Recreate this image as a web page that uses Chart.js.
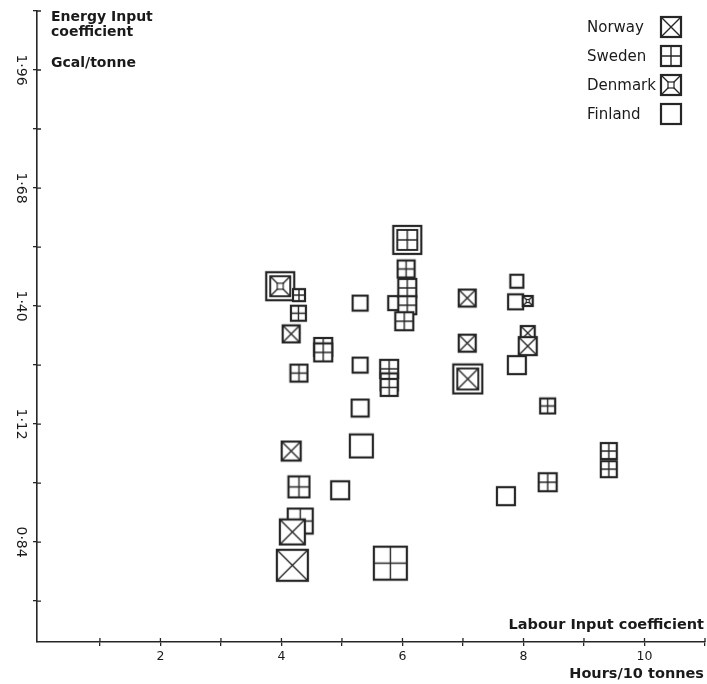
<!DOCTYPE html>
<html><head><meta charset="utf-8">
<style>html,body{margin:0;padding:0;background:#fff;} #wrap{width:707px;height:684px;}</style>
<script src="https://cdn.jsdelivr.net/npm/chart.js@4.4.0/dist/chart.umd.min.js"></script>
</head><body><div id="wrap"><canvas id="c" width="707" height="684"></canvas></div>
<script>
// ---- data ----
const countries = ['Norway', 'Sweden', 'Denmark', 'Finland'];

const norwayX = [4.16, 4.16, 4.18, 4.18, 7.07, 7.07, 7.08, 8.07, 8.07];
const norwayY = [1.334, 1.056, 0.864, 0.785, 1.419, 1.312, 1.227, 1.336, 1.305];
const norwaySize = [17, 19, 25, 31, 17, 17, 29, 14, 18];
const norwayRing = [0, 0, 0, 0, 0, 0, 1, 0, 0];

const swedenX = [4.29, 4.28, 4.69, 4.69, 4.29, 4.29, 4.31, 5.80, 6.08, 6.06, 6.08, 6.08, 6.03, 5.78, 5.78, 5.78, 8.40, 8.40, 9.41, 9.41];
const swedenY = [1.426, 1.383, 1.303, 1.290, 1.241, 0.971, 0.890, 0.790, 1.557, 1.488, 1.443, 1.402, 1.364, 1.251, 1.220, 1.207, 1.163, 0.982, 1.056, 1.013];
const swedenSize = [12, 15, 18, 18, 17, 21, 25, 33, 28, 17, 18, 18, 18, 18, 17, 17, 15, 18, 16, 16];
const swedenRing = [0, 0, 0, 0, 0, 0, 0, 0, 1, 0, 0, 0, 0, 0, 0, 0, 0, 0, 0, 0];

const denmarkX = [3.98, 8.07];
const denmarkY = [1.447, 1.412];
const denmarkSize = [28, 10];
const denmarkRing = [1, 0];

const finlandX = [5.30, 5.30, 5.30, 5.32, 4.97, 5.88, 7.89, 7.87, 7.89, 7.71];
const finlandY = [1.407, 1.260, 1.158, 1.068, 0.963, 1.407, 1.459, 1.410, 1.260, 0.949];
const finlandSize = [15, 15, 17, 23, 18, 14, 13, 15, 18, 18];
const finlandRing = [0, 0, 0, 0, 0, 0, 0, 0, 0, 0];

const xTickValues = [1, 2, 3, 4, 5, 6, 7, 8, 9, 10, 11];
const xTickLabels = ['', '2', '', '4', '', '6', '', '8', '', '10', ''];
const yTickValues = [0.70, 0.84, 0.98, 1.12, 1.26, 1.40, 1.54, 1.68, 1.82, 1.96, 2.10];
const yTickLabels = ['', '0·84', '', '1·12', '', '1·40', '', '1·68', '', '1·96', ''];

const yTitle = ['Energy Input', 'coefficient'];
const yUnit = 'Gcal/tonne';
const xTitle = 'Labour Input coefficient';
const xUnit = 'Hours/10 tonnes';

// ---- styling ----
const INK = '#262626';
const FONT = '"DejaVu Sans", "Liberation Sans", sans-serif';
const cache = {};
function marker(kind, size, ring) {
  const key = kind + '|' + size + '|' + ring;
  if (cache[key]) return cache[key];
  const pad = 2, W = size + pad * 2;
  const cv = document.createElement('canvas');
  cv.width = W; cv.height = W;
  const g = cv.getContext('2d');
  g.strokeStyle = INK; g.fillStyle = '#fff';
  let x0 = pad, s = size;
  g.fillRect(x0, x0, s, s);
  g.lineWidth = 2.2; g.strokeRect(x0, x0, s, s);
  if (ring) { x0 += 4; s -= 8; g.lineWidth = 1.9; g.strokeRect(x0, x0, s, s); }
  g.lineWidth = 1.4;
  const x1 = x0 + s, c = x0 + s / 2;
  if (kind === 'Norway' || kind === 'Denmark') {
    g.beginPath(); g.moveTo(x0, x0); g.lineTo(x1, x1); g.moveTo(x1, x0); g.lineTo(x0, x1); g.stroke();
  }
  if (kind === 'Sweden') {
    g.beginPath(); g.moveTo(c, x0); g.lineTo(c, x1); g.moveTo(x0, c); g.lineTo(x1, c); g.stroke();
  }
  if (kind === 'Denmark') {
    const q = Math.max(3, Math.round(s * 0.28));
    g.fillRect(c - q / 2, c - q / 2, q, q);
    g.lineWidth = 1.2; g.strokeRect(c - q / 2, c - q / 2, q, q);
  }
  cache[key] = cv;
  return cv;
}

function makeSet(name, xs, ys, sizes, rings) {
  return {
    label: name,
    data: xs.map((x, i) => ({ x: x, y: ys[i] })),
    pointRadius: 6,
    pointStyle: (ctx) => ctx.dataIndex === undefined ? 'rect' : marker(name, sizes[ctx.dataIndex], rings[ctx.dataIndex]),
    showLine: false
  };
}

const datasets = [
  makeSet('Norway', norwayX, norwayY, norwaySize, norwayRing),
  makeSet('Sweden', swedenX, swedenY, swedenSize, swedenRing),
  makeSet('Denmark', denmarkX, denmarkY, denmarkSize, denmarkRing),
  makeSet('Finland', finlandX, finlandY, finlandSize, finlandRing)
];

const decor = {
  id: 'decor',
  afterDraw(chart) {
    const ctx = chart.ctx, xs = chart.scales.x, ys = chart.scales.y;
    const a = chart.chartArea;
    ctx.save();
    ctx.strokeStyle = INK; ctx.lineWidth = 1.3;
    ctx.beginPath();
    xTickValues.forEach(v => { const p = xs.getPixelForValue(v); ctx.moveTo(p, a.bottom); ctx.lineTo(p, a.bottom - 4); });
    yTickValues.forEach(v => { const p = ys.getPixelForValue(v); ctx.moveTo(a.left, p); ctx.lineTo(a.left + 4, p); });
    ctx.stroke();
    ctx.fillStyle = '#1a1a1a';
    ctx.font = '14px ' + FONT;
    ctx.textAlign = 'center'; ctx.textBaseline = 'middle';
    yTickValues.forEach((v, i) => {
      if (!yTickLabels[i]) return;
      const p = ys.getPixelForValue(v);
      ctx.save(); ctx.translate(21, p); ctx.rotate(Math.PI / 2); ctx.fillText(yTickLabels[i], 0, 0); ctx.restore();
    });
    ctx.font = 'bold 14px ' + FONT;
    ctx.textAlign = 'left';
    ctx.fillText(yTitle[0], 51, 17);
    ctx.fillText(yTitle[1], 51, 32);
    ctx.fillText(yUnit, 51, 63);
    ctx.font = 'bold 14.5px ' + FONT;
    ctx.textAlign = 'right';
    ctx.fillText(xTitle, 704, 625);
    ctx.fillText(xUnit, 704, 674);
    const ly = [27, 56, 85, 114];
    ctx.font = '15px ' + FONT;
    ctx.textAlign = 'left';
    countries.forEach((name, i) => {
      ctx.fillText(name, 587, ly[i] + 1);
      const m = marker(name, 20, 0);
      ctx.drawImage(m, Math.round(671 - m.width / 2), Math.round(ly[i] - m.height / 2));
    });
    ctx.restore();
  }
};

new Chart(document.getElementById('c'), {
  type: 'scatter',
  data: { datasets: datasets },
  options: {
    responsive: false,
    animation: false,
    events: [],
    layout: { autoPadding: false, padding: { top: 11, right: 2, left: 1, bottom: 0 } },
    plugins: { legend: { display: false }, tooltip: { enabled: false } },
    scales: {
      x: {
        type: 'linear', min: -0.04, max: 11,
        afterBuildTicks: (s) => { s.ticks = xTickValues.map(v => ({ value: v })); },
        afterFit: (s) => { s.height = 42; s.paddingLeft = 0; s.paddingRight = 0; },
        ticks: {
          autoSkip: false, maxRotation: 0, padding: 3, color: '#1a1a1a',
          font: { family: FONT, size: 12.5 },
          callback: (v, i) => xTickLabels[i]
        },
        grid: { drawOnChartArea: false, drawTicks: true, tickLength: 4, color: INK, lineWidth: 1.3 },
        border: { display: true, color: INK, width: 1.6 }
      },
      y: {
        type: 'linear', min: 0.603, max: 2.10,
        afterBuildTicks: (s) => { s.ticks = yTickValues.map(v => ({ value: v })); },
        afterFit: (s) => { s.width = 36; s.paddingTop = 0; s.paddingBottom = 0; },
        ticks: { display: false },
        grid: { drawOnChartArea: false, drawTicks: true, tickLength: 4, color: INK, lineWidth: 1.3 },
        border: { display: true, color: INK, width: 1.6 }
      }
    }
  },
  plugins: [decor]
});
</script></body></html>
